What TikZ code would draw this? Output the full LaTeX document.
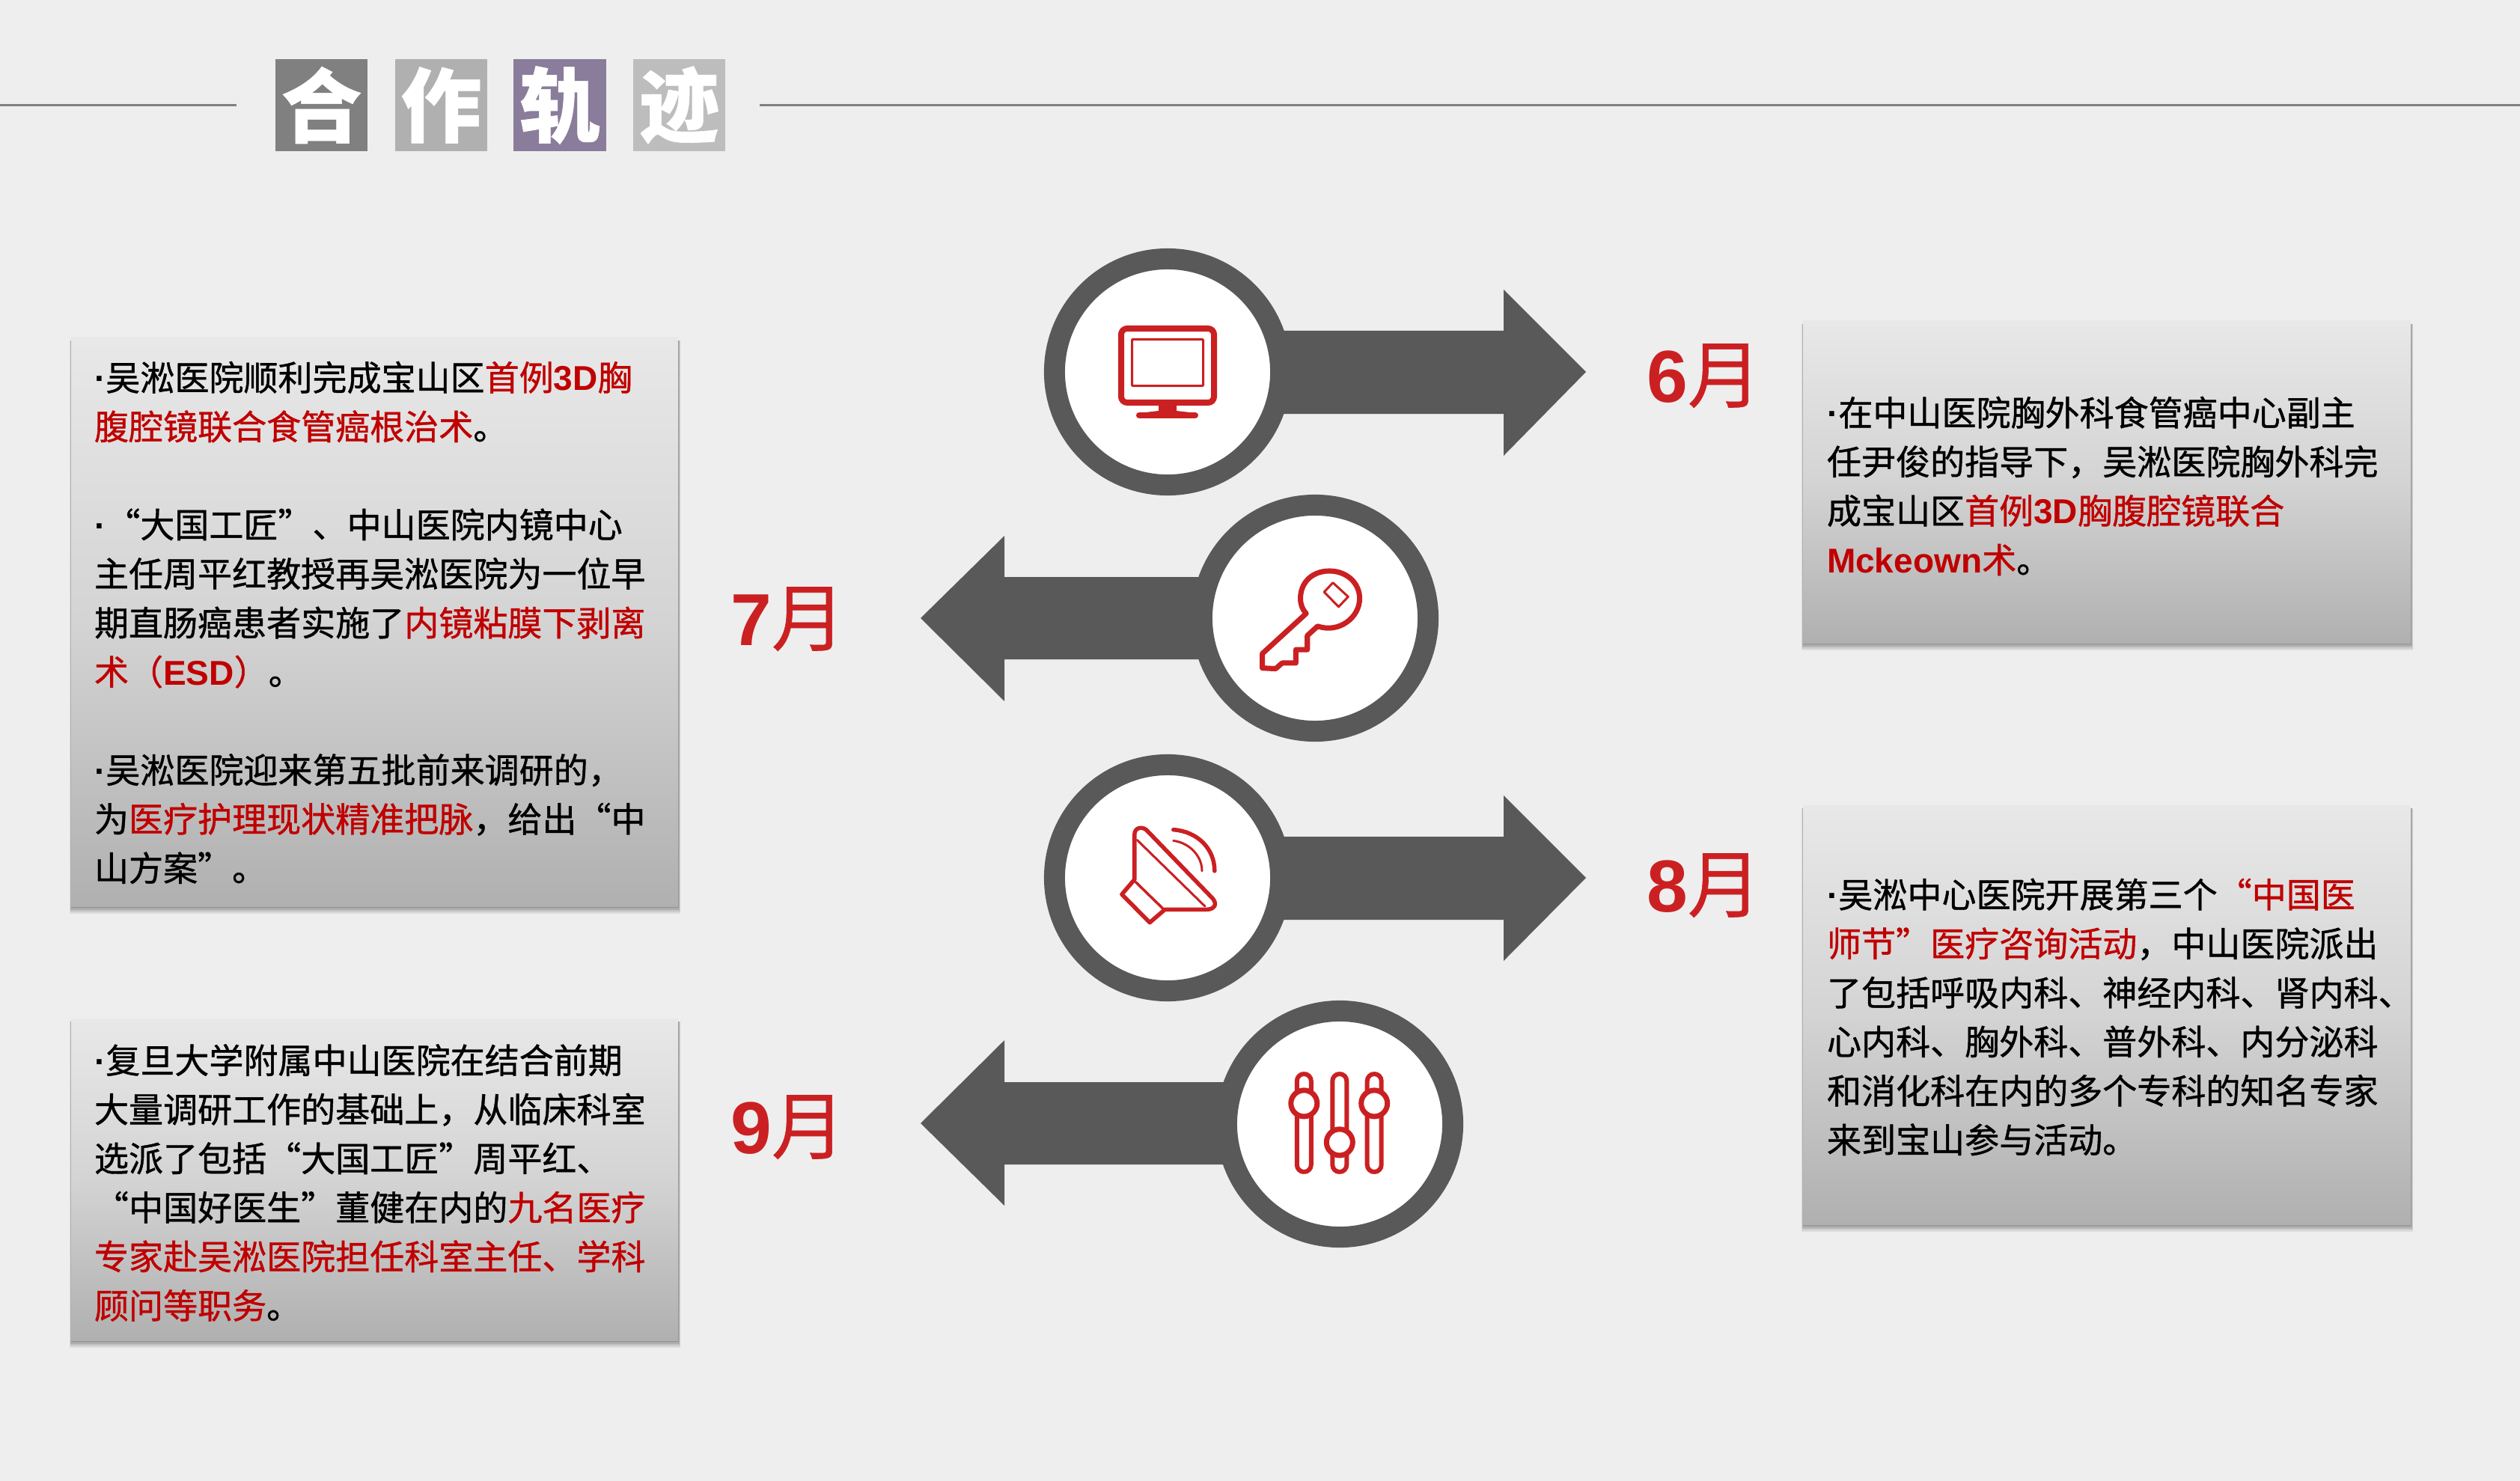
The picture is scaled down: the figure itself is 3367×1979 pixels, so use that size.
\documentclass[tikz,border=0pt]{standalone}
\usepackage{fontspec}
\setmainfont{Noto Sans CJK SC}[FakeBold=0.9]
\newfontfamily\latf{Liberation Sans}
\newfontfamily\titlef{Noto Sans CJK SC}[FakeBold=0.5]
\newfontfamily\monthf{Noto Sans CJK SC}[FakeBold=0.6]
\definecolor{bgc}{HTML}{EEEEEE}
\definecolor{ringc}{HTML}{595959}
\definecolor{iconc}{HTML}{CB2022}
\definecolor{txtred}{HTML}{C00000}
\newcommand\rd[1]{\textcolor{txtred}{#1}}
\newcommand\lbf[1]{{\latf\bfseries #1}}
\newcommand\dotmark{\lbf{·}}
\newcommand\panelbox[5]{%
  \foreach \d in {1.5,3,4.5,6,8,10}{\fill[black,opacity=.07] ({#2-\d/6},{#3+4}) rectangle ({#4+\d/3},{#5+\d});}
  \node[panelrect,minimum width={(#4-#2)*0.01cm},minimum height={(#5-#3)*0.01cm}] (#1) at ({(#2+#4)/2},{(#3+#5)/2}) {};}
\tikzset{
  panelrect/.style={rectangle,inner sep=0pt,outer sep=0pt,top color=black!9,bottom color=black!31,middle color=black!17},
  bodytext/.style={anchor=west,inner sep=0pt,outer sep=0pt,align=left,font=\fontsize{13.09pt}{18.64pt}\selectfont},
  monthtext/.style={anchor=base west,inner sep=0pt,outer sep=0pt,text=iconc,font=\fontsize{28pt}{32pt}\selectfont},
  titlebox/.style={rectangle,inner sep=0pt,outer sep=0pt,minimum width=1.23cm,minimum height=1.23cm,text=white,font=\fontsize{30.7pt}{33pt}\selectfont\titlef\bfseries},
  ringnode/.style={circle,inner sep=0pt,outer sep=0pt,minimum size=3.02cm,draw=ringc,line width=.28cm,fill=white},
  arrowshape/.style={fill=ringc},
  rule/.style={draw=black!50,line width=.03cm},
  iconline/.style={draw=iconc,line width=.07cm,line join=round,line cap=round},
  iconthin/.style={draw=iconc,line width=.03cm,line join=round,line cap=round}
}
\begin{document}
\begin{tikzpicture}[x=0.01cm,y=-0.01cm]
\fill[bgc] (0,0) rectangle (3367,1979);
\useasboundingbox (0,0) rectangle (3367,1979);
% title
\coordinate (ruleLa) at (0,141);
\coordinate (ruleLb) at (316,141);
\coordinate (ruleRa) at (1015,141);
\coordinate (ruleRb) at (3367,141);
\draw[rule] (ruleLa) -- (ruleLb);
\draw[rule] (ruleRa) -- (ruleRb);
\node[titlebox,fill=black!50] (t1) at (429.5,140.5) {合};
\node[titlebox,fill=black!31] (t2) at (589.5,140.5) {作};
\node[titlebox,fill={rgb,255:red,138;green,124;blue,155}] (t3) at (748,140.5) {轨};
\node[titlebox,fill=black!26] (t4) at (907.5,140.5) {迹};
% arrows
\fill[arrowshape] (1560,442) -- (2009,442) -- (2009,387) -- (2119,497) -- (2009,609) -- (2009,553) -- (1560,553) -- cycle;
\fill[arrowshape] (1757,771) -- (1342,771) -- (1342,716) -- (1230,826) -- (1342,937) -- (1342,881) -- (1757,881) -- cycle;
\fill[arrowshape] (1560,1118) -- (2009,1118) -- (2009,1063) -- (2119,1173) -- (2009,1284) -- (2009,1229) -- (1560,1229) -- cycle;
\fill[arrowshape] (1790,1446) -- (1342,1446) -- (1342,1390) -- (1230,1501) -- (1342,1611) -- (1342,1556) -- (1790,1556) -- cycle;
\node[ringnode] (c1) at (1560,497) {};
\node[ringnode] (c2) at (1757,826) {};
\node[ringnode] (c3) at (1560,1173) {};
\node[ringnode] (c4) at (1790,1502) {};
% monitor icon
\draw[iconc,line width=.08cm,rounded corners=.08cm] (1498,439) rectangle (1622,538);
\draw[iconc,line width=.03cm,rounded corners=.01cm] (1512.5,453.5) rectangle (1607.5,515.5);
\fill[iconc] (1548,540) -- (1572,540) -- (1572,549) -- (1598,552) -- (1598,558) -- (1522,558) -- (1522,552) -- (1548,549) -- cycle;
\draw[iconc,line width=.08cm,line cap=round] (1522,555) -- (1597,555);
% key icon
\begin{scope}[shift={(1350,300)},x=0.0051cm,y=-0.004464cm]
\draw[iconline] (775,1162) -- (660,1282) -- (660,1325) -- (695,1327) -- (712,1310) -- (748,1310) -- (748,1270) -- (778,1270) -- (778,1228) -- (805,1200)
  .. controls (860,1222) and (915,1175) .. (915,1117)
  .. controls (915,1070) and (880,1035) .. (836,1035)
  .. controls (790,1035) and (760,1070) .. (760,1117)
  .. controls (760,1135) and (765,1150) .. (775,1162) -- cycle;
\draw[iconthin] (845,1070) -- (885,1112) -- (860,1142) -- (822,1098) -- cycle;
\end{scope}
% speaker icon
\begin{scope}[shift={(1350,980)},x=0.0051cm,y=-0.004591cm]
\draw[iconline,line width=.055cm] (325,425) -- (325,295) .. controls (325,270) and (350,270) .. (360,285) -- (530,480) .. controls (545,500) and (530,512) .. (515,512) -- (405,512) -- (365,550) -- (292,468) -- (325,425) -- cycle;
\draw[iconthin] (332,310) -- (510,503);
\draw[iconthin,line width=.035cm] (328,432) -- (402,512);
\draw[iconline,line width=.055cm] (427,280) .. controls (490,285) and (535,335) .. (535,400);
\draw[iconthin] (427,312) .. controls (468,318) and (502,355) .. (502,400);
\end{scope}
% sliders icon
\foreach \sx/\ky [count=\i] in {1742.3/1474.4,1789.8/1526.4,1836.2/1474.4}{
  \draw[iconc,line width=.06cm,rounded corners=.095cm] ({\sx-9.5},1435) rectangle ({\sx+9.5},1566);
  \node[circle,inner sep=0pt,outer sep=0pt,minimum size=.35cm,draw=iconc,line width=.07cm,fill=white] (knob\i) at (\sx,\ky) {};
}
% panels
\panelbox{p1}{95}{451}{906}{1211}
\panelbox{p2}{95}{1361}{906}{1791}
\panelbox{p3}{2409}{429}{3221}{859}
\panelbox{p4}{2409}{1076}{3221}{1636}
% months
\node[monthtext] (m6) at (2200,537) {\lbf{6}\monthf 月};
\node[monthtext] (m7) at (976,862) {\lbf{7}\monthf 月};
\node[monthtext] (m8) at (2200,1218) {\lbf{8}\monthf 月};
\node[monthtext] (m9) at (976,1541) {\lbf{9}\monthf 月};
% texts
\node[bodytext] (b1) at (126,836.5) {\strut\dotmark 吴淞医院顺利完成宝山区\rd{首例\lbf{3D}胸}\\
\strut\rd{腹腔镜联合食管癌根治术}。\\
\strut\\
\strut\dotmark “大国工匠”、中山医院内镜中心\\
\strut 主任周平红教授再吴淞医院为一位早\\
\strut 期直肠癌患者实施了\rd{内镜粘膜下剥离}\\
\strut\rd{术（\lbf{ESD}）}。\\
\strut\\
\strut\dotmark 吴淞医院迎来第五批前来调研的，\\
\strut 为\rd{医疗护理现状精准把脉}，给出“中\\
\strut 山方案”。};
\node[bodytext] (b2) at (126,1585) {\strut\dotmark 复旦大学附属中山医院在结合前期\\
\strut 大量调研工作的基础上，从临床科室\\
\strut 选派了包括“大国工匠”周平红、\\
\strut “中国好医生”董健在内的\rd{九名医疗}\\
\strut\rd{专家赴吴淞医院担任科室主任、学科}\\
\strut\rd{顾问等职务}。};
\node[bodytext] (b3) at (2441,654) {\strut\dotmark 在中山医院胸外科食管癌中心副主\\
\strut 任尹俊的指导下，吴淞医院胸外科完\\
\strut 成宝山区\rd{首例\lbf{3D}胸腹腔镜联合}\\
\strut\rd{\lbf{Mckeown}术}。};
\node[bodytext] (b4) at (2441,1363.5) {\strut\dotmark 吴淞中心医院开展第三个\rd{“中国医}\\
\strut\rd{师节”医疗咨询活动}，中山医院派出\\
\strut 了包括呼吸内科、神经内科、肾内科、\\
\strut 心内科、胸外科、普外科、内分泌科\\
\strut 和消化科在内的多个专科的知名专家\\
\strut 来到宝山参与活动。};
\end{tikzpicture}
\end{document}
